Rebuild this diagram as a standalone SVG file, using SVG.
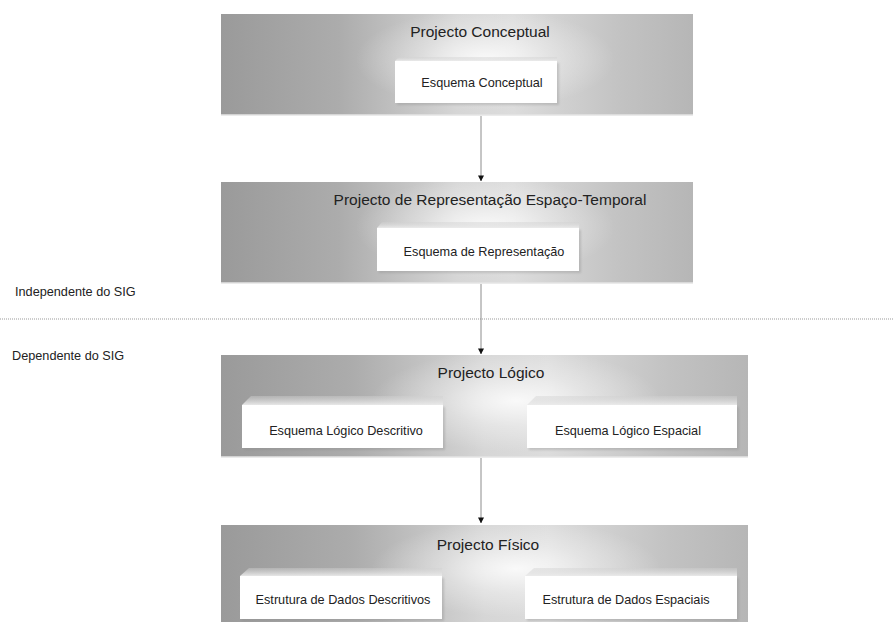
<svg xmlns="http://www.w3.org/2000/svg" width="893" height="622" viewBox="0 0 893 622">
  <defs>
    <!-- metallic panel shading: darker at the sides, light in the middle -->
    <linearGradient id="panelH" x1="0" y1="0" x2="1" y2="0">
      <stop offset="0" stop-color="#9a9a9a"/>
      <stop offset="0.25" stop-color="#acacac"/>
      <stop offset="0.5" stop-color="#d6d6d6"/>
      <stop offset="0.62" stop-color="#dcdcdc"/>
      <stop offset="0.85" stop-color="#c2c2c2"/>
      <stop offset="1" stop-color="#b6b6b6"/>
    </linearGradient>
    <radialGradient id="panelGlow" cx="0.56" cy="0.45" r="0.5" fx="0.56" fy="0.45" gradientTransform="translate(0.56 0.45) scale(0.55 1) translate(-0.56 -0.45)">
      <stop offset="0" stop-color="#ffffff" stop-opacity="0.85"/>
      <stop offset="0.5" stop-color="#ffffff" stop-opacity="0.35"/>
      <stop offset="1" stop-color="#ffffff" stop-opacity="0"/>
    </radialGradient>
    <linearGradient id="bevelTop" x1="0" y1="0" x2="0" y2="1">
      <stop offset="0" stop-color="#d0d0d0" stop-opacity="0.4"/>
      <stop offset="1" stop-color="#ebebeb" stop-opacity="0.95"/>
    </linearGradient>
    <marker id="arrow" viewBox="0 0 8 8" refX="7.5" refY="4" markerWidth="6" markerHeight="6" markerUnits="userSpaceOnUse" orient="auto">
      <path d="M0,0 L8,4 L0,8 Z" fill="#111"/>
    </marker>
    <filter id="soft" x="-5%" y="-20%" width="110%" height="140%">
      <feGaussianBlur stdDeviation="1.2"/>
    </filter>
  </defs>
  <style>
    .title { font-family: "Liberation Sans", Arial, sans-serif; font-size: 15.5px; fill: #222; text-anchor: middle; }
    .inner { font-family: "Liberation Sans", Arial, sans-serif; font-size: 12.7px; fill: #222; text-anchor: middle; }
    .side { font-family: "Liberation Sans", Arial, sans-serif; font-size: 12.7px; fill: #222; }
    .panelBase { fill: url(#panelH); }
    .panelGlow { fill: url(#panelGlow); }
    .edgeLight { stroke: #e4e4e4; stroke-width: 1.5; }
    .face { fill: #ffffff; }
    .bevel { fill: url(#bevelTop); }
    .shade { fill: #8a8a8a; opacity: 0.35; filter: url(#soft); }
    .conn { stroke: #8c8c8c; stroke-width: 1; fill: none; marker-end: url(#arrow); }
    .sep { stroke: #9a9a9a; stroke-width: 1.2; stroke-dasharray: 1 1; }
  </style>

  <rect width="893" height="622" fill="#ffffff"/>

  <!-- side labels and separator -->
  <g id="labels">
    <text class="side" x="15" y="296">Independente do SIG</text>
    <line class="sep" x1="0" y1="319" x2="893" y2="319"/>
    <text class="side" x="12" y="360">Dependente do SIG</text>
  </g>

  <!-- Projecto Conceptual -->
  <g id="projecto-conceptual">
    <rect class="panelBase" x="221" y="14" width="472" height="101"/>
    <rect class="panelGlow" x="221" y="14" width="472" height="101"/>
    <line class="edgeLight" x1="221" y1="115" x2="693" y2="115"/>
    <text class="title" x="480" y="37">Projecto Conceptual</text>
    <g id="esquema-conceptual">
      <rect class="shade" x="397" y="63" width="162" height="42"/>
      <polygon class="bevel" points="395,61 399,57 557,57 557,61"/>
      <rect class="face" x="395" y="61" width="162" height="42"/>
      <text class="inner" x="482" y="87">Esquema Conceptual</text>
    </g>
  </g>

  <!-- Projecto de Representação Espaço-Temporal -->
  <g id="projecto-representacao">
    <rect class="panelBase" x="221" y="182" width="472" height="101"/>
    <rect class="panelGlow" x="221" y="182" width="472" height="101"/>
    <line class="edgeLight" x1="221" y1="283" x2="693" y2="283"/>
    <text class="title" x="490" y="205">Projecto de Representação Espaço-Temporal</text>
    <g id="esquema-representacao">
      <rect class="shade" x="379" y="230" width="202" height="43"/>
      <polygon class="bevel" points="377,228 382,222 579,222 579,228"/>
      <rect class="face" x="377" y="228" width="202" height="43"/>
      <text class="inner" x="484" y="256">Esquema de Representação</text>
    </g>
  </g>

  <!-- Projecto Lógico -->
  <g id="projecto-logico">
    <rect class="panelBase" x="221" y="355" width="527" height="102"/>
    <rect class="panelGlow" x="221" y="355" width="527" height="102"/>
    <line class="edgeLight" x1="221" y1="457" x2="748" y2="457"/>
    <text class="title" x="491" y="378">Projecto Lógico</text>
    <g id="esquema-logico-descritivo">
      <rect class="shade" x="244" y="407" width="201" height="43"/>
      <polygon class="bevel" points="242,405 251,396 443,396 443,405"/>
      <rect class="face" x="242" y="405" width="201" height="43"/>
      <text class="inner" x="346" y="435">Esquema Lógico Descritivo</text>
    </g>
    <g id="esquema-logico-espacial">
      <rect class="shade" x="529" y="407" width="210" height="43"/>
      <polygon class="bevel" points="527,405 536,396 737,396 737,405"/>
      <rect class="face" x="527" y="405" width="210" height="43"/>
      <text class="inner" x="628" y="435">Esquema Lógico Espacial</text>
    </g>
  </g>

  <!-- Projecto Físico -->
  <g id="projecto-fisico">
    <rect class="panelBase" x="221" y="525" width="527" height="97"/>
    <rect class="panelGlow" x="221" y="525" width="527" height="97"/>
    <text class="title" x="488" y="550">Projecto Físico</text>
    <g id="estrutura-dados-descritivos">
      <rect class="shade" x="242" y="578" width="202" height="43"/>
      <polygon class="bevel" points="240,576 249,568 442,568 442,576"/>
      <rect class="face" x="240" y="576" width="202" height="43"/>
      <text class="inner" x="343" y="604">Estrutura de Dados Descritivos</text>
    </g>
    <g id="estrutura-dados-espaciais">
      <rect class="shade" x="527" y="578" width="212" height="43"/>
      <polygon class="bevel" points="525,576 534,568 737,568 737,576"/>
      <rect class="face" x="525" y="576" width="212" height="43"/>
      <text class="inner" x="626" y="604">Estrutura de Dados Espaciais</text>
    </g>
  </g>

  <!-- connectors -->
  <g id="connectors">
    <line class="conn" x1="481" y1="116" x2="481" y2="181"/>
    <line class="conn" x1="481" y1="284" x2="481" y2="354"/>
    <line class="conn" x1="481" y1="458" x2="481" y2="523"/>
  </g>
</svg>
